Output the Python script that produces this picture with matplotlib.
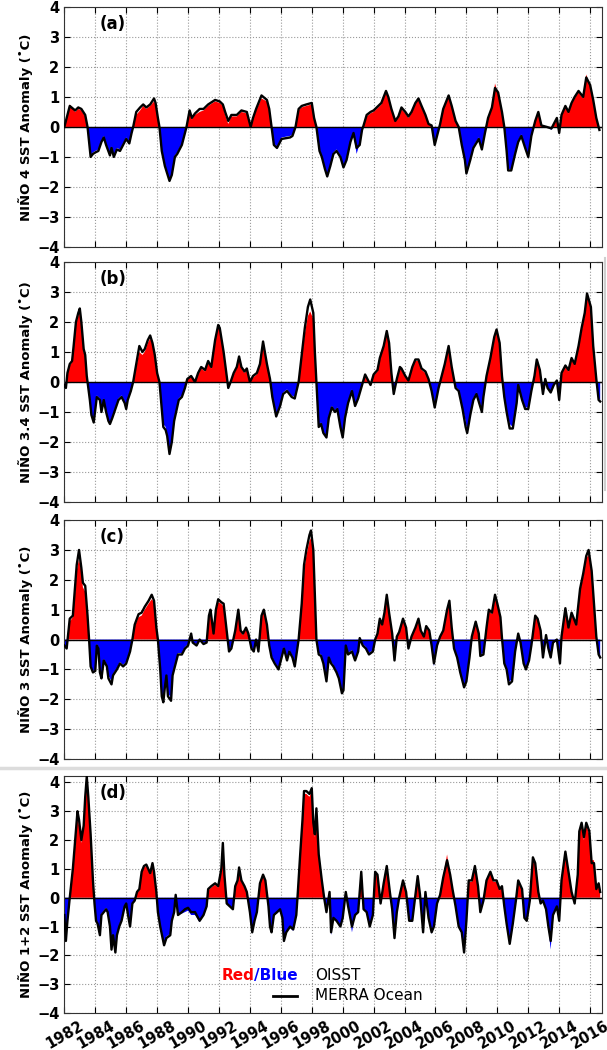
import numpy as np
import matplotlib
matplotlib.use('Agg')
import matplotlib.pyplot as plt
from matplotlib.lines import Line2D
from matplotlib.offsetbox import TextArea, HPacker, AnnotationBbox

# values (year, OISST fill, MERRA Ocean line)
times_a = [1982.0, 1982.25, 1982.35, 1982.7, 1982.9, 1983.1, 1983.35, 1983.5, 1983.6, 1983.7,
           1983.85, 1984.0, 1984.2, 1984.4, 1984.55, 1984.7, 1984.95, 1985.05, 1985.2, 1985.4,
           1985.6, 1985.85, 1986.0, 1986.2, 1986.35, 1986.45, 1986.65, 1986.9, 1987.1, 1987.3,
           1987.55, 1987.8, 1987.9, 1988.05, 1988.15, 1988.3, 1988.5, 1988.8, 1988.95, 1989.15,
           1989.3, 1989.6, 1989.75, 1989.9, 1990.1, 1990.25, 1990.45, 1990.75, 1991.0, 1991.3,
           1991.75, 1992.05, 1992.25, 1992.4, 1992.6, 1992.8, 1993.15, 1993.45, 1993.8, 1994.05,
           1994.2, 1994.4, 1994.75, 1995.1, 1995.25, 1995.4, 1995.55, 1995.75, 1996.05, 1996.6,
           1996.75, 1996.95, 1997.15, 1997.35, 1997.65, 1998.0, 1998.15, 1998.3, 1998.5, 1998.65,
           1998.85, 1999.0, 1999.2, 1999.4, 1999.6, 1999.85, 2000.05, 2000.25, 2000.5, 2000.7,
           2000.9, 2001.1, 2001.25, 2001.35, 2001.55, 2001.8, 2002.0, 2002.3, 2002.5, 2002.8,
           2002.95, 2003.15, 2003.4, 2003.6, 2003.8, 2004.05, 2004.25, 2004.45, 2004.7, 2004.9,
           2005.1, 2005.35, 2005.55, 2005.75, 2005.95, 2006.1, 2006.3, 2006.5, 2006.85, 2007.05,
           2007.3, 2007.5, 2007.7, 2007.9, 2008.0, 2008.25, 2008.45, 2008.8, 2009.0, 2009.2,
           2009.4, 2009.65, 2009.85, 2010.05, 2010.3, 2010.45, 2010.6, 2010.7, 2010.9, 2011.15,
           2011.35, 2011.55, 2011.8, 2012.0, 2012.2, 2012.45, 2012.65, 2012.85, 2013.2, 2013.5,
           2013.85, 2014.0, 2014.15, 2014.4, 2014.6, 2014.8, 2015.0, 2015.25, 2015.55, 2015.75,
           2016.0, 2016.2, 2016.4, 2016.6]
oisst_a = [0.0, 0.45, 0.75, 0.5, 0.6, 0.55, 0.35, 0.0, -0.45, -0.95,
           -0.85, -0.8, -0.75, -0.45, -0.3, -0.55, -0.9, -0.65, -0.95, -0.7,
           -0.75, -0.5, -0.35, -0.5, -0.15, 0.0, 0.4, 0.55, 0.7, 0.6,
           0.7, 0.85, 0.75, 0.25, 0.0, -0.75, -1.25, -1.75, -1.55, -0.95,
           -0.85, -0.55, -0.25, 0.0, 0.5, 0.25, 0.4, 0.5, 0.55, 0.7,
           0.85, 0.8, 0.7, 0.4, 0.1, 0.35, 0.35, 0.5, 0.45, 0.0,
           0.25, 0.55, 0.95, 0.85, 0.55, 0.0, -0.55, -0.65, -0.35, -0.3,
           -0.25, 0.0, 0.55, 0.65, 0.7, 0.75, 0.25, 0.0, -0.75, -0.95,
           -1.35, -1.6, -1.25, -0.85, -0.75, -0.95, -1.3, -1.05, -0.45, -0.25,
           -0.9, -0.55, -0.1, 0.05, 0.35, 0.45, 0.5, 0.65, 0.75, 1.15,
           0.95, 0.55, 0.2, 0.3, 0.6, 0.45, 0.3, 0.45, 0.75, 0.95,
           0.65, 0.35, 0.1, 0.05, -0.55, -0.25, 0.1, 0.55, 1.0, 0.65,
           0.2, 0.0, -0.55, -1.05, -1.6, -1.05, -0.65, -0.35, -0.7, -0.2,
           0.25, 0.6, 1.45, 1.1, 0.45, 0.0, -0.75, -1.4, -1.4, -0.85,
           -0.45, -0.25, -0.65, -0.95, -0.25, 0.15, 0.45, 0.05, 0.0, -0.1,
           0.25, -0.2, 0.35, 0.65, 0.45, 0.75, 0.95, 1.15, 0.95, 1.75,
           1.35, 0.85, 0.25, -0.1]
merra_a = [0.0, 0.5, 0.7, 0.55, 0.65, 0.6, 0.4, 0.0, -0.5, -1.0,
           -0.9, -0.85, -0.8, -0.5, -0.35, -0.6, -0.95, -0.7, -1.0, -0.75,
           -0.8, -0.55, -0.4, -0.55, -0.2, 0.0, 0.5, 0.65, 0.75, 0.65,
           0.75, 0.95, 0.8, 0.3, 0.0, -0.8, -1.3, -1.8, -1.6, -1.0,
           -0.9, -0.6, -0.3, 0.0, 0.55, 0.3, 0.45, 0.6, 0.6, 0.75,
           0.9, 0.85, 0.75, 0.5, 0.2, 0.4, 0.4, 0.55, 0.5, 0.0,
           0.3, 0.6, 1.05, 0.9, 0.6, 0.0, -0.6, -0.7, -0.4, -0.35,
           -0.3, 0.0, 0.6, 0.7, 0.75, 0.8, 0.3, 0.0, -0.8, -1.0,
           -1.4, -1.65, -1.3, -0.9, -0.8, -1.0, -1.35, -1.1, -0.5, -0.2,
           -0.7, -0.6, -0.1, 0.05, 0.4, 0.5, 0.55, 0.7, 0.8, 1.2,
           1.0, 0.6, 0.2, 0.35, 0.65, 0.5, 0.35, 0.5, 0.8, 0.95,
           0.7, 0.4, 0.1, 0.05, -0.6, -0.3, 0.1, 0.6, 1.05, 0.7,
           0.2, 0.0, -0.6, -1.1, -1.55, -1.1, -0.7, -0.4, -0.75, -0.2,
           0.3, 0.65, 1.3, 1.15, 0.5, 0.0, -0.8, -1.45, -1.45, -0.9,
           -0.5, -0.3, -0.7, -1.0, -0.3, 0.2, 0.5, 0.05, 0.0, -0.05,
           0.3, -0.2, 0.4, 0.7, 0.5, 0.8, 1.0, 1.2, 1.0, 1.65,
           1.4, 0.9, 0.3, -0.1]

times_b = [1982.0, 1982.1, 1982.2, 1982.35, 1982.5, 1982.6, 1982.75, 1982.9, 1983.0, 1983.1,
           1983.25, 1983.35, 1983.45, 1983.5, 1983.65, 1983.75, 1983.9, 1984.1, 1984.3, 1984.4,
           1984.55, 1984.7, 1984.85, 1984.95, 1985.1, 1985.3, 1985.5, 1985.7, 1985.9, 1986.0,
           1986.1, 1986.3, 1986.45, 1986.65, 1986.85, 1987.05, 1987.2, 1987.4, 1987.55, 1987.7,
           1987.85, 1988.0, 1988.15, 1988.3, 1988.4, 1988.55, 1988.65, 1988.8, 1988.95, 1989.1,
           1989.4, 1989.6, 1989.8, 1989.95, 1990.2, 1990.45, 1990.65, 1990.85, 1991.1, 1991.3,
           1991.5, 1991.75, 1991.95, 1992.05, 1992.3, 1992.5, 1992.6, 1992.75, 1992.95, 1993.15,
           1993.3, 1993.45, 1993.65, 1993.8, 1994.0, 1994.2, 1994.45, 1994.65, 1994.85, 1995.1,
           1995.3, 1995.45, 1995.7, 1995.95, 1996.15, 1996.4, 1996.7, 1996.9, 1997.15, 1997.35,
           1997.55, 1997.75, 1997.9, 1998.1, 1998.2, 1998.3, 1998.45, 1998.6, 1998.75, 1998.95,
           1999.1, 1999.3, 1999.5, 1999.65, 1999.85, 2000.0, 2000.15, 2000.35, 2000.6, 2000.8,
           2001.0, 2001.25, 2001.45, 2001.65, 2001.8, 2002.0, 2002.25, 2002.4, 2002.65, 2002.85,
           2003.0, 2003.15, 2003.3, 2003.5, 2003.7, 2003.8, 2004.05, 2004.25, 2004.5, 2004.7,
           2004.9, 2005.1, 2005.35, 2005.55, 2005.75, 2005.95, 2006.2, 2006.4, 2006.6, 2006.85,
           2007.05, 2007.3, 2007.5, 2007.75, 2007.95, 2008.05, 2008.25, 2008.45, 2008.65, 2009.0,
           2009.1, 2009.3, 2009.55, 2009.8, 2009.95, 2010.15, 2010.3, 2010.45, 2010.6, 2010.8,
           2011.0, 2011.25, 2011.35, 2011.6, 2011.8, 2012.0, 2012.2, 2012.4, 2012.55, 2012.75,
           2012.95, 2013.1, 2013.25, 2013.45, 2013.65, 2013.85, 2014.0, 2014.15, 2014.4, 2014.6,
           2014.8, 2015.0, 2015.25, 2015.45, 2015.65, 2015.8, 2016.05, 2016.2, 2016.4, 2016.55,
           2016.65]
oisst_b = [-0.1, -0.2, 0.25, 0.55, 0.65, 1.1, 1.9, 2.2, 2.35, 1.95,
           1.0, 0.85, 0.2, 0.0, -0.55, -1.05, -1.3, -0.45, -0.55, -0.95,
           -0.55, -0.95, -1.25, -1.35, -1.15, -0.85, -0.55, -0.45, -0.65, -0.85,
           -0.55, -0.25, 0.0, 0.5, 1.0, 0.9, 1.0, 1.3, 1.45, 1.25,
           0.85, 0.25, 0.0, -0.85, -1.4, -1.5, -1.75, -2.25, -1.95, -1.25,
           -0.55, -0.45, -0.2, 0.1, 0.15, 0.0, 0.25, 0.45, 0.35, 0.65,
           0.45, 1.3, 1.85, 1.75, 0.95, 0.15, -0.15, 0.0, 0.25, 0.45,
           0.8, 0.45, 0.3, 0.4, 0.0, 0.15, 0.25, 0.55, 1.25, 0.55,
           0.1, -0.45, -1.1, -0.75, -0.35, -0.25, -0.45, -0.5, 0.0, 0.8,
           1.6, 2.2, 2.35, 2.1, 0.95, 0.0, -1.45, -1.35, -1.65, -1.8,
           -1.15, -0.8, -0.95, -0.85, -1.45, -1.8, -1.15, -0.65, -0.25, -0.75,
           -0.5, -0.1, 0.2, 0.05, -0.1, 0.2, 0.35, 0.75, 1.15, 1.6,
           1.25, 0.25, -0.35, 0.1, 0.45, 0.4, 0.15, 0.05, 0.45, 0.7,
           0.7, 0.4, 0.3, 0.1, -0.25, -0.8, -0.15, 0.15, 0.55, 1.15,
           0.45, -0.15, -0.25, -0.85, -1.3, -1.65, -1.05, -0.55, -0.35, -0.9,
           -0.45, 0.15, 0.75, 1.4, 1.7, 1.25, 0.15, -0.45, -0.95, -1.4,
           -1.5, -0.65, -0.1, -0.55, -0.85, -0.85, -0.25, 0.15, 0.7, 0.35,
           -0.35, 0.1, -0.2, -0.3, -0.1, 0.05, -0.55, 0.25, 0.5, 0.35,
           0.75, 0.55, 1.15, 1.7, 2.2, 2.85, 2.45, 1.15, 0.1, -0.55,
           -0.6]
merra_b = [-0.1, -0.2, 0.3, 0.6, 0.7, 1.2, 2.0, 2.3, 2.45, 2.0,
           1.1, 0.9, 0.2, 0.0, -0.6, -1.1, -1.35, -0.5, -0.6, -1.0,
           -0.6, -1.0, -1.3, -1.4, -1.2, -0.9, -0.6, -0.5, -0.7, -0.9,
           -0.6, -0.3, 0.0, 0.6, 1.2, 1.0, 1.1, 1.4, 1.55, 1.3,
           0.9, 0.3, 0.0, -0.9, -1.5, -1.6, -1.8, -2.4, -2.0, -1.3,
           -0.6, -0.5, -0.2, 0.1, 0.2, 0.0, 0.3, 0.5, 0.4, 0.7,
           0.5, 1.4, 1.9, 1.8, 1.0, 0.2, -0.2, 0.0, 0.3, 0.5,
           0.85, 0.5, 0.35, 0.45, 0.0, 0.2, 0.3, 0.6, 1.35, 0.6,
           0.1, -0.5, -1.15, -0.8, -0.4, -0.3, -0.5, -0.55, 0.0, 0.9,
           1.8, 2.5, 2.75, 2.3, 1.0, 0.0, -1.5, -1.4, -1.7, -1.85,
           -1.2, -0.85, -1.0, -0.9, -1.5, -1.85, -1.2, -0.7, -0.3, -0.8,
           -0.55, -0.1, 0.25, 0.05, -0.1, 0.25, 0.4, 0.8, 1.2, 1.7,
           1.3, 0.3, -0.4, 0.1, 0.5, 0.45, 0.2, 0.05, 0.5, 0.75,
           0.75, 0.45, 0.35, 0.1, -0.3, -0.85, -0.2, 0.2, 0.6, 1.2,
           0.5, -0.2, -0.3, -0.9, -1.5, -1.7, -1.1, -0.6, -0.4, -1.0,
           -0.5, 0.2, 0.8, 1.5, 1.75, 1.3, 0.2, -0.5, -1.0, -1.55,
           -1.55, -0.7, -0.1, -0.6, -0.9, -0.9, -0.3, 0.2, 0.75, 0.4,
           -0.4, 0.1, -0.2, -0.35, -0.1, 0.05, -0.6, 0.3, 0.55, 0.4,
           0.8, 0.6, 1.2, 1.8, 2.3, 2.95, 2.5, 1.2, 0.1, -0.6,
           -0.65]

times_c = [1982.0, 1982.15, 1982.25, 1982.35, 1982.55, 1982.7, 1982.8, 1982.95, 1983.1, 1983.2,
           1983.35, 1983.5, 1983.6, 1983.7, 1983.85, 1984.0, 1984.1, 1984.2, 1984.3, 1984.4,
           1984.55, 1984.75, 1984.85, 1985.05, 1985.15, 1985.4, 1985.6, 1985.8, 1986.0, 1986.25,
           1986.4, 1986.55, 1986.8, 1987.0, 1987.2, 1987.45, 1987.65, 1987.8, 1987.95, 1988.05,
           1988.2, 1988.3, 1988.4, 1988.5, 1988.6, 1988.7, 1988.9, 1989.0, 1989.2, 1989.35,
           1989.6, 1989.8, 1990.0, 1990.2, 1990.3, 1990.55, 1990.75, 1991.0, 1991.2, 1991.35,
           1991.45, 1991.65, 1991.8, 1991.95, 1992.15, 1992.3, 1992.5, 1992.65, 1992.8, 1993.05,
           1993.25, 1993.4, 1993.55, 1993.75, 1993.9, 1994.1, 1994.25, 1994.4, 1994.55, 1994.75,
           1994.9, 1995.1, 1995.25, 1995.4, 1995.6, 1995.85, 1996.05, 1996.2, 1996.4, 1996.55,
           1996.75, 1996.9, 1997.15, 1997.35, 1997.5, 1997.65, 1997.85, 1997.95, 1998.1, 1998.2,
           1998.3, 1998.45, 1998.6, 1998.75, 1998.95, 1999.1, 1999.25, 1999.4, 1999.6, 1999.75,
           1999.95, 2000.05, 2000.2, 2000.35, 2000.6, 2000.8, 2001.0, 2001.1, 2001.3, 2001.5,
           2001.7, 2001.95, 2002.1, 2002.25, 2002.4, 2002.55, 2002.7, 2002.85, 2003.0, 2003.2,
           2003.35, 2003.5, 2003.65, 2003.9, 2004.1, 2004.25, 2004.45, 2004.7, 2004.9, 2005.05,
           2005.25, 2005.4, 2005.6, 2005.75, 2005.9, 2006.1, 2006.3, 2006.5, 2006.75, 2006.9,
           2007.05, 2007.2, 2007.4, 2007.6, 2007.85, 2008.0, 2008.2, 2008.35, 2008.6, 2008.8,
           2008.9, 2009.1, 2009.3, 2009.45, 2009.65, 2009.85, 2010.0, 2010.2, 2010.3, 2010.45,
           2010.6, 2010.75, 2010.95, 2011.15, 2011.35, 2011.5, 2011.7, 2011.85, 2012.05, 2012.2,
           2012.45, 2012.6, 2012.8, 2012.95, 2013.15, 2013.3, 2013.45, 2013.6, 2013.85, 2014.05,
           2014.15, 2014.4, 2014.6, 2014.8, 2014.95, 2015.1, 2015.35, 2015.55, 2015.75, 2015.9,
           2016.1, 2016.25, 2016.4, 2016.55, 2016.65]
oisst_c = [-0.2, -0.25, 0.15, 0.6, 0.75, 1.6, 2.3, 2.7, 2.3, 1.75,
           1.6, 0.75, 0.0, -0.85, -1.05, -1.0, -0.15, -0.25, -1.0, -1.2,
           -0.65, -0.85, -1.2, -1.4, -1.15, -0.95, -0.75, -0.85, -0.75, -0.35,
           0.0, 0.45, 0.75, 0.8, 1.0, 1.2, 1.35, 1.25, 0.35, 0.0,
           -0.95, -1.8, -2.0, -1.5, -1.15, -1.8, -1.95, -1.15, -0.75, -0.45,
           -0.45, -0.25, -0.15, 0.15, -0.1, -0.15, 0.0, -0.1, -0.1, 0.7,
           0.9, 0.15, 0.9, 1.25, 1.2, 1.1, 0.25, -0.35, -0.25, 0.25,
           0.9, 0.25, 0.15, 0.35, 0.15, -0.25, -0.35, 0.0, -0.35, 0.75,
           0.9, 0.45, -0.15, -0.55, -0.75, -0.95, -0.55, -0.25, -0.65, -0.35,
           -0.55, -0.85, 0.0, 1.1, 2.3, 2.8, 3.3, 3.4, 2.9, 1.4,
           0.0, -0.45, -0.5, -0.75, -1.35, -0.55, -0.75, -0.85, -1.05, -1.25,
           -1.7, -1.65, -0.2, -0.45, -0.35, -0.65, -0.35, 0.05, -0.15, -0.25,
           -0.45, -0.35, 0.0, 0.15, 0.65, 0.45, 0.85, 1.4, 0.85, 0.15,
           -0.65, 0.1, 0.2, 0.65, 0.35, -0.25, 0.1, 0.35, 0.65, 0.25,
           0.1, 0.4, 0.25, -0.15, -0.9, -0.15, 0.1, 0.25, 0.95, 1.2,
           0.35, -0.25, -0.55, -1.05, -1.55, -1.35, -0.55, 0.1, 0.55, 0.15,
           -0.5, -0.45, 0.35, 0.95, 0.85, 1.4, 1.15, 0.7, 0.05, -0.75,
           -0.95, -1.4, -1.35, -0.35, 0.15, -0.1, -0.75, -0.95, -0.65, -0.15,
           0.75, 0.65, 0.25, -0.55, 0.1, -0.25, -0.55, -0.1, 0.0, -0.75,
           0.1, 1.0, 0.35, 0.85, 0.65, 0.45, 1.6, 2.1, 2.7, 2.85,
           2.2, 1.15, 0.1, -0.45, -0.55]
merra_c = [-0.2, -0.3, 0.2, 0.7, 0.8, 1.8, 2.5, 3.0, 2.4, 1.9,
           1.8, 0.8, 0.0, -0.9, -1.1, -1.05, -0.2, -0.3, -1.1, -1.3,
           -0.7, -0.9, -1.3, -1.5, -1.2, -1.0, -0.8, -0.9, -0.8, -0.4,
           0.0, 0.5, 0.85, 0.9, 1.1, 1.3, 1.5, 1.3, 0.4, 0.0,
           -1.0, -1.9, -2.1, -1.6, -1.2, -1.9, -2.05, -1.2, -0.8, -0.5,
           -0.5, -0.3, -0.2, 0.2, -0.1, -0.2, 0.0, -0.15, -0.1, 0.8,
           1.0, 0.2, 1.0, 1.35, 1.25, 1.2, 0.3, -0.4, -0.3, 0.3,
           1.0, 0.3, 0.2, 0.4, 0.2, -0.3, -0.4, 0.0, -0.4, 0.8,
           1.0, 0.5, -0.2, -0.6, -0.8, -1.0, -0.6, -0.3, -0.7, -0.4,
           -0.6, -0.9, 0.0, 1.2, 2.5, 3.0, 3.5, 3.65, 3.0, 1.5,
           0.0, -0.5, -0.55, -0.8, -1.4, -0.6, -0.8, -0.9, -1.1, -1.3,
           -1.8, -1.7, -0.2, -0.5, -0.4, -0.7, -0.4, 0.05, -0.2, -0.3,
           -0.5, -0.4, 0.0, 0.2, 0.7, 0.5, 0.9, 1.5, 0.9, 0.2,
           -0.7, 0.1, 0.25, 0.7, 0.4, -0.3, 0.1, 0.4, 0.7, 0.3,
           0.1, 0.45, 0.3, -0.2, -0.8, -0.2, 0.1, 0.3, 1.0, 1.3,
           0.4, -0.3, -0.6, -1.1, -1.6, -1.4, -0.6, 0.1, 0.6, 0.2,
           -0.55, -0.5, 0.4, 1.0, 0.9, 1.5, 1.2, 0.75, 0.05, -0.8,
           -1.0, -1.5, -1.4, -0.4, 0.2, -0.1, -0.8, -1.0, -0.7, -0.2,
           0.8, 0.7, 0.3, -0.6, 0.15, -0.3, -0.6, -0.1, 0.0, -0.8,
           0.1, 1.05, 0.4, 0.9, 0.7, 0.5, 1.7, 2.2, 2.8, 3.0,
           2.3, 1.2, 0.1, -0.5, -0.6]

times_d = [1982.0, 1982.1, 1982.2, 1982.35, 1982.55, 1982.7, 1982.85, 1982.95, 1983.1, 1983.25,
           1983.35, 1983.45, 1983.55, 1983.7, 1983.85, 1983.95, 1984.05, 1984.15, 1984.3, 1984.4,
           1984.55, 1984.7, 1984.8, 1984.95, 1985.05, 1985.15, 1985.3, 1985.4, 1985.55, 1985.7,
           1985.9, 1986.0, 1986.15, 1986.25, 1986.4, 1986.55, 1986.7, 1986.85, 1987.0, 1987.15,
           1987.3, 1987.55, 1987.7, 1987.8, 1987.95, 1988.05, 1988.2, 1988.35, 1988.45, 1988.6,
           1988.85, 1988.95, 1989.1, 1989.2, 1989.35, 1989.6, 1989.8, 1990.0, 1990.2, 1990.45,
           1990.75, 1991.0, 1991.2, 1991.3, 1991.5, 1991.75, 1991.95, 1992.15, 1992.25, 1992.35,
           1992.5, 1992.7, 1992.9, 1993.05, 1993.2, 1993.3, 1993.45, 1993.65, 1993.8, 1994.0,
           1994.15, 1994.3, 1994.45, 1994.65, 1994.85, 1995.0, 1995.2, 1995.3, 1995.4, 1995.55,
           1995.75, 1995.95, 1996.1, 1996.2, 1996.35, 1996.6, 1996.8, 1997.0, 1997.1, 1997.25,
           1997.4, 1997.5, 1997.65, 1997.85, 1998.0, 1998.1, 1998.2, 1998.3, 1998.45, 1998.65,
           1998.8, 1998.95, 1999.15, 1999.25, 1999.4, 1999.6, 1999.85, 2000.0, 2000.2, 2000.35,
           2000.6, 2000.8, 2001.0, 2001.2, 2001.35, 2001.55, 2001.75, 2001.95, 2002.1, 2002.25,
           2002.45, 2002.65, 2002.85, 2003.05, 2003.2, 2003.35, 2003.5, 2003.65, 2003.9, 2004.1,
           2004.3, 2004.5, 2004.7, 2004.85, 2005.0, 2005.2, 2005.35, 2005.55, 2005.75, 2005.9,
           2006.1, 2006.3, 2006.5, 2006.75, 2006.95, 2007.1, 2007.3, 2007.5, 2007.7, 2007.85,
           2008.0, 2008.15, 2008.35, 2008.55, 2008.75, 2008.9, 2009.1, 2009.3, 2009.55, 2009.75,
           2009.95, 2010.15, 2010.3, 2010.45, 2010.6, 2010.8, 2011.0, 2011.2, 2011.35, 2011.6,
           2011.75, 2011.9, 2012.1, 2012.3, 2012.45, 2012.65, 2012.8, 2012.95, 2013.15, 2013.3,
           2013.45, 2013.6, 2013.85, 2014.0, 2014.15, 2014.4, 2014.6, 2014.8, 2015.0, 2015.2,
           2015.3, 2015.45, 2015.6, 2015.75, 2015.95, 2016.1, 2016.25, 2016.4, 2016.55, 2016.65]
oisst_d = [-0.6, -1.45, -0.75, 0.0, 0.9, 1.8, 2.8, 2.5, 1.9, 2.4,
           3.3, 4.0, 3.4, 2.1, 0.55, -0.2, -0.75, -0.85, -1.25, -0.55,
           -0.45, -0.35, -0.45, -0.95, -1.75, -1.25, -1.85, -1.25, -0.95, -0.75,
           -0.3, -0.2, -0.65, -1.0, -0.2, -0.1, 0.15, 0.25, 0.85, 1.05,
           1.1, 0.8, 1.1, 0.85, 0.2, -0.45, -0.95, -1.35, -1.6, -1.35,
           -1.25, -0.75, -0.5, 0.1, -0.55, -0.55, -0.5, -0.45, -0.6, -0.6,
           -0.85, -0.6, -0.3, 0.25, 0.35, 0.45, 0.35, 0.9, 1.8, 0.75,
           -0.2, -0.3, -0.35, 0.35, 0.55, 0.95, 0.55, 0.35, 0.2, -0.45,
           -1.15, -0.75, -0.5, 0.45, 0.75, 0.55, -0.3, -1.0, -1.2, -0.6,
           -0.55, -0.45, -0.75, -1.55, -1.2, -1.05, -1.15, -0.6, 0.2, 1.4,
           2.6, 3.6, 3.6, 3.5, 3.7, 2.5, 2.1, 3.0, 1.45, 0.55,
           0.0, -0.55, 0.15, -1.3, -0.7, -0.8, -1.0, -0.7, 0.15, -0.3,
           -1.2, -0.6, -0.5, 0.85, -0.4, -0.5, -1.0, -0.6, 0.85, 0.75,
           -0.2, 0.45, 1.05, 0.2, -0.4, -1.45, -0.5, 0.0, 0.55, 0.2,
           -0.8, -0.85, 0.1, 0.7, 0.1, -1.25, 0.15, -0.7, -1.25, -1.0,
           -0.2, 0.1, 0.75, 1.5, 0.75, 0.3, -0.3, -1.0, -1.25, -1.9,
           -0.8, 0.55, 0.55, 1.05, 0.35, -0.5, -0.1, 0.55, 0.85, 0.55,
           0.55, 0.25, 0.35, -0.3, -0.9, -1.55, -0.9, -0.1, 0.55, 0.25,
           -0.7, -0.8, -0.1, 1.35, 1.15, 0.2, -0.2, -0.1, -0.4, -1.05,
           -1.8, -0.65, -0.3, -0.85, 0.55, 1.55, 0.85, 0.25, -0.2, 0.75,
           2.2, 2.5, 2.0, 2.5, 2.2, 1.3, 1.3, 0.4, 0.5, 0.3]
merra_d = [-0.6, -1.5, -0.8, 0.0, 1.0, 2.0, 3.0, 2.7, 2.0, 2.5,
           3.5, 4.2, 3.5, 2.2, 0.6, -0.2, -0.8, -0.9, -1.3, -0.6,
           -0.5, -0.4, -0.5, -1.0, -1.8, -1.3, -1.9, -1.3, -1.0, -0.8,
           -0.3, -0.2, -0.7, -1.0, -0.2, -0.1, 0.2, 0.3, 0.9, 1.1,
           1.15, 0.85, 1.2, 0.9, 0.2, -0.5, -1.0, -1.4, -1.65, -1.4,
           -1.3, -0.8, -0.5, 0.1, -0.6, -0.5, -0.4, -0.35, -0.5, -0.5,
           -0.8, -0.6, -0.3, 0.3, 0.4, 0.5, 0.4, 1.0, 1.9, 0.8,
           -0.2, -0.3, -0.4, 0.4, 0.6, 1.05, 0.6, 0.4, 0.2, -0.5,
           -1.2, -0.8, -0.5, 0.5, 0.8, 0.6, -0.3, -1.0, -1.2, -0.6,
           -0.5, -0.4, -0.7, -1.5, -1.2, -1.0, -1.1, -0.6, 0.2, 1.5,
           2.7, 3.7, 3.7, 3.6, 3.8, 2.6, 2.2, 3.1, 1.5, 0.6,
           0.0, -0.5, 0.2, -1.2, -0.7, -0.8, -1.0, -0.7, 0.2, -0.3,
           -1.0, -0.6, -0.5, 0.9, -0.4, -0.5, -1.0, -0.6, 0.9, 0.8,
           -0.2, 0.5, 1.1, 0.2, -0.4, -1.4, -0.5, 0.0, 0.6, 0.2,
           -0.8, -0.8, 0.1, 0.75, 0.1, -1.2, 0.2, -0.7, -1.2, -1.0,
           -0.2, 0.1, 0.7, 1.3, 0.8, 0.3, -0.3, -1.0, -1.2, -1.9,
           -0.8, 0.6, 0.6, 1.1, 0.4, -0.5, -0.1, 0.6, 0.9, 0.6,
           0.6, 0.3, 0.4, -0.3, -0.9, -1.6, -0.9, -0.1, 0.6, 0.3,
           -0.7, -0.8, -0.1, 1.4, 1.2, 0.2, -0.2, -0.1, -0.4, -1.0,
           -1.5, -0.6, -0.3, -0.8, 0.6, 1.6, 0.9, 0.2, -0.2, 0.8,
           2.3, 2.6, 2.1, 2.6, 2.3, 1.2, 1.2, 0.3, 0.5, 0.2]

region_names = ['NIÑO 4', 'NIÑO 3.4', 'NIÑO 3', 'NIÑO 1+2']
panel_tags = ['(a)', '(b)', '(c)', '(d)']
year_ticks = list(range(1982, 2017, 2))

series = [(times_a, oisst_a, merra_a), (times_b, oisst_b, merra_b),
          (times_c, oisst_c, merra_c), (times_d, oisst_d, merra_d)]

fig = plt.figure(figsize=(6.07, 10.5), dpi=100)
left, width = 0.106, 0.8853
boxes = [(0.7648, 0.2286), (0.5219, 0.2286), (0.2771, 0.2276), (0.0352, 0.2257)]
ytops = [4, 4, 4, 4.22]

for i, (t, o, m) in enumerate(series):
    bottom, height = boxes[i]
    ax = fig.add_axes([left, bottom, width, height])
    t = np.array(t)
    o = np.array(o)
    m = np.array(m)
    ax.fill_between(t, o, 0, where=o >= 0, interpolate=True, color='#ff0000', lw=0)
    ax.fill_between(t, o, 0, where=o <= 0, interpolate=True, color='#0000ff', lw=0)
    ax.plot(t, m, color='k', lw=1.7, zorder=3)
    ax.axhline(0, color='k', lw=1.0, zorder=2)
    ax.set_xlim(1982, 2016.75)
    ax.set_ylim(-4, ytops[i])
    ax.set_xticks(year_ticks)
    ax.set_yticks(range(-4, 5))
    ax.grid(True, ls=':', color='#999999', lw=0.8)
    ax.set_axisbelow(True)
    ax.tick_params(direction='in', top=True, right=True, length=4, labelsize=10.5)
    for lab in ax.get_yticklabels():
        lab.set_fontweight('bold')
    for sp in ax.spines.values():
        sp.set_color('#333333')
    ax.set_ylabel(region_names[i] + ' SST Anomaly (˚C)', fontsize=9.5, fontweight='bold',
                  labelpad=3)
    ax.text(0.065, 0.965, panel_tags[i], transform=ax.transAxes, fontsize=12,
            fontweight='bold', va='top')
    if i < 3:
        ax.tick_params(labelbottom=False)
    else:
        ax.set_xticklabels([str(y) for y in year_ticks], rotation=30, ha='center',
                           fontweight='bold', fontsize=10.5)
        # legend made of coloured text pieces
        parts = [TextArea('Red', textprops=dict(color='#ff0000', fontweight='bold', fontsize=11)),
                 TextArea('/Blue', textprops=dict(color='#0000ff', fontweight='bold', fontsize=11))]
        box = HPacker(children=parts, align='baseline', pad=0, sep=0)
        ab = AnnotationBbox(box, (0.435, 0.157), xycoords='axes fraction',
                            box_alignment=(1, 0.5), frameon=False, pad=0)
        ax.add_artist(ab)
        ax.text(0.467, 0.157, 'OISST', transform=ax.transAxes, fontsize=11, va='center')
        ax.plot([0.388, 0.433], [0.072, 0.072], transform=ax.transAxes, color='k', lw=2)
        ax.text(0.467, 0.072, 'MERRA Ocean', transform=ax.transAxes, fontsize=11, va='center')

# light seams of the composite image
fig.add_artist(Line2D([0, 1], [1 - 768 / 1050] * 2, transform=fig.transFigure,
                      color='#dcdcdc', lw=2.5))
fig.add_artist(Line2D([605 / 607] * 2, [1 - 258 / 1050, 1 - 490 / 1050],
                      transform=fig.transFigure, color='#cfcfcf', lw=1.5))

fig.savefig('out.png', dpi=100)
